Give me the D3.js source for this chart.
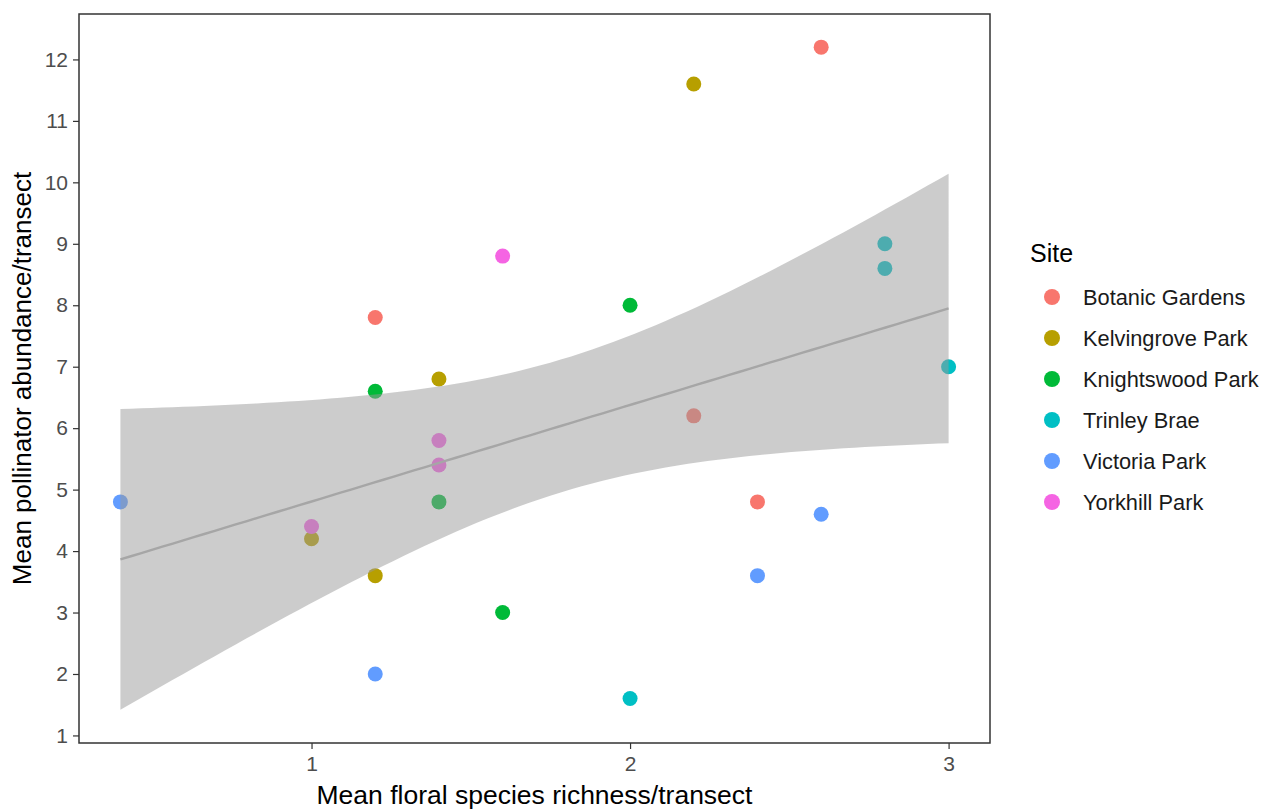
<!DOCTYPE html>
<html>
<head>
<meta charset="utf-8">
<script src="https://cdn.jsdelivr.net/npm/d3@7"></script>
<style>
  body { margin: 0; background: #fff; }
  svg { display: block; font-family: "Liberation Sans", Arial, sans-serif; }
</style>
</head>
<body>
<svg id="chart" width="1264" height="811"></svg>
<script>
// ---- Data ----
const sites = ["Botanic Gardens", "Kelvingrove Park", "Knightswood Park", "Trinley Brae", "Victoria Park", "Yorkhill Park"];
const siteColors = ["#F8766D", "#B79F00", "#00BA38", "#00BFC4", "#619CFF", "#F564E3"];

const botanicX = [1.2, 2.6, 2.2, 2.4];
const botanicY = [7.8, 12.2, 6.2, 4.8];
const kelvingroveX = [2.2, 1.4, 1.0, 1.2];
const kelvingroveY = [11.6, 6.8, 4.2, 3.6];
const knightswoodX = [1.2, 2.0, 1.4, 1.6];
const knightswoodY = [6.6, 8.0, 4.8, 3.0];
const trinleyX = [2.8, 2.8, 3.0, 2.0];
const trinleyY = [9.0, 8.6, 7.0, 1.6];
const victoriaX = [0.4, 1.2, 2.4, 2.6];
const victoriaY = [4.8, 2.0, 3.6, 4.6];
const yorkhillX = [1.6, 1.4, 1.4, 1.0];
const yorkhillY = [8.8, 5.8, 5.4, 4.4];

const xTicks = [1, 2, 3];
const yTicks = [1, 2, 3, 4, 5, 6, 7, 8, 9, 10, 11, 12];
const xTitle = "Mean floral species richness/transect";
const yTitle = "Mean pollinator abundance/transect";
const legendTitle = "Site";
const tCrit = 2.0739; // qt(0.975, df = 22)

const seriesX = [botanicX, kelvingroveX, knightswoodX, trinleyX, victoriaX, yorkhillX];
const seriesY = [botanicY, kelvingroveY, knightswoodY, trinleyY, victoriaY, yorkhillY];
const points = [];
sites.forEach((s, i) => seriesX[i].forEach((x, j) => points.push({ site: s, x: x, y: seriesY[i][j] })));

// ---- Linear model (geom_smooth method = "lm") ----
const n = points.length;
const xbar = d3.mean(points, d => d.x), ybar = d3.mean(points, d => d.y);
const sxx = d3.sum(points, d => (d.x - xbar) ** 2);
const sxy = d3.sum(points, d => (d.x - xbar) * (d.y - ybar));
const slope = sxy / sxx, intercept = ybar - slope * xbar;
const sse = d3.sum(points, d => (d.y - intercept - slope * d.x) ** 2);
const sigma = Math.sqrt(sse / (n - 2));
const [xmin, xmax] = d3.extent(points, d => d.x);
const fit = d3.range(80).map(k => {
  const x = xmin + (xmax - xmin) * k / 79;
  const yhat = intercept + slope * x;
  const se = sigma * Math.sqrt(1 / n + (x - xbar) ** 2 / sxx);
  return { x: x, y: yhat, lo: yhat - tCrit * se, hi: yhat + tCrit * se };
});

// ---- Layout ----
const svg = d3.select("#chart");
const P = { left: 79, right: 990, top: 14, bottom: 743 };

const xAll = points.map(d => d.x);
const yAll = points.map(d => d.y).concat(fit.map(d => d.lo), fit.map(d => d.hi));
const xr = d3.extent(xAll), yr = d3.extent(yAll);
const xe = (xr[1] - xr[0]) * 0.05, ye = (yr[1] - yr[0]) * 0.05;
const x = d3.scaleLinear().domain([xr[0] - xe, xr[1] + xe]).range([P.left, P.right]);
const y = d3.scaleLinear().domain([yr[0] - ye, yr[1] + ye]).range([P.bottom, P.top]);
const color = d3.scaleOrdinal().domain(sites).range(siteColors);

// points (drawn before the ribbon, as in the source)
svg.append("g").selectAll("circle").data(points).join("circle")
  .attr("cx", d => x(d.x)).attr("cy", d => y(d.y)).attr("r", 7.5)
  .attr("fill", d => color(d.site));

// ribbon
svg.append("path").datum(fit)
  .attr("d", d3.area().x(d => x(d.x)).y0(d => y(d.lo)).y1(d => y(d.hi)))
  .attr("fill", "#999999").attr("fill-opacity", 0.5);

// fit line
svg.append("path").datum(fit)
  .attr("d", d3.line().x(d => x(d.x)).y(d => y(d.y)))
  .attr("fill", "none").attr("stroke", "#A6A6A6").attr("stroke-width", 2.4);

// panel border
svg.append("rect").attr("x", P.left).attr("y", P.top)
  .attr("width", P.right - P.left).attr("height", P.bottom - P.top)
  .attr("fill", "none").attr("stroke", "#333333").attr("stroke-width", 1.5);

// axes
const xAxis = svg.append("g").attr("transform", `translate(0,${P.bottom})`)
  .call(d3.axisBottom(x).tickValues(xTicks).tickFormat(d3.format("d")).tickSize(6).tickPadding(7));
const yAxis = svg.append("g").attr("transform", `translate(${P.left},0)`)
  .call(d3.axisLeft(y).tickValues(yTicks).tickFormat(d3.format("d")).tickSize(6).tickPadding(5));
[xAxis, yAxis].forEach(g => {
  g.select(".domain").remove();
  g.selectAll(".tick line").attr("stroke", "#333333").attr("stroke-width", 1.2);
  g.selectAll(".tick text").attr("fill", "#4D4D4D").style("font-size", "21px")
    .style("font-family", "'Liberation Sans', Arial, sans-serif");
});

// axis titles
svg.append("text").attr("x", (P.left + P.right) / 2).attr("y", 804)
  .attr("text-anchor", "middle").style("font-size", "26.5px").attr("fill", "#000").text(xTitle);
svg.append("text").attr("transform", `translate(31,${(P.top + P.bottom) / 2}) rotate(-90)`)
  .attr("text-anchor", "middle").style("font-size", "26px").attr("fill", "#000").text(yTitle);

// legend
const lg = svg.append("g");
lg.append("text").attr("x", 1030).attr("y", 262).style("font-size", "25px").attr("fill", "#000").text(legendTitle);
const items = lg.selectAll("g.item").data(sites).join("g").attr("class", "item")
  .attr("transform", (d, i) => `translate(1052,${297 + i * 41})`);
items.append("circle").attr("r", 8).attr("fill", d => color(d));
items.append("text").attr("x", 31).attr("dy", "0.35em").style("font-size", "21.8px").attr("fill", "#1a1a1a").text(d => d);
</script>
</body>
</html>
